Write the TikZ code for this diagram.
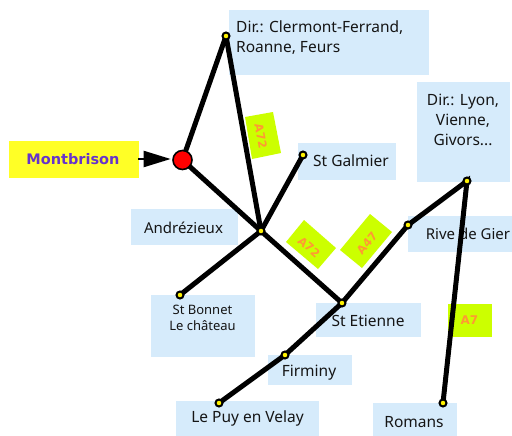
\documentclass[tikz,border=0pt]{standalone}
\usepackage{fontspec}
\usetikzlibrary{arrows.meta}
\setmainfont{Noto Sans}
\newfontfamily\boldv{DejaVu Sans}
\definecolor{boxblue}{HTML}{D6EBFB}
\definecolor{signyellow}{HTML}{FFFF26}
\definecolor{lime}{HTML}{CCFF00}
\definecolor{roadlabel}{HTML}{FF9933}
\definecolor{mbpurple}{HTML}{6633CC}
\definecolor{ink}{HTML}{151515}
\pgfdeclarelayer{front}
\pgfsetlayers{main,front}
\tikzset{
 placetext/.style={font=\fontsize{15.5}{20}\selectfont,text=ink,inner sep=0pt,align=center},
 smalltext/.style={font=\fontsize{13}{16}\selectfont,text=ink,inner sep=0pt,align=center},
 signtext/.style={font=\boldv\bfseries\fontsize{11.5}{12}\selectfont,text=roadlabel,inner sep=0pt},
 road/.style={draw=black,line width=5pt},
 stop/.style={circle,fill=yellow,draw=black,line width=2pt,minimum size=7pt,inner sep=0pt},
}
\begin{document}
\begin{tikzpicture}[x=1pt,y=-1pt]
\useasboundingbox (0,0) rectangle (512,436);
% boxes
\fill[boxblue] (229,10) rectangle (429,75);
\fill[boxblue] (298,143) rectangle (396,180);
\fill[boxblue] (417,82) rectangle (510,182);
\fill[boxblue] (408,216) rectangle (512,252);
\fill[boxblue] (131,209) rectangle (238,245);
\fill[boxblue] (151,295) rectangle (255,357);
\fill[boxblue] (316,303) rectangle (421,337);
\fill[boxblue] (268,355) rectangle (352,385);
\fill[boxblue] (176,401) rectangle (319,436);
\fill[boxblue] (373,403) rectangle (457,436);
\fill[signyellow] (9,141) rectangle (139,178);
% signs
\fill[lime] (245,117) -- (273,112) -- (281,153) -- (252,159) -- cycle;
\fill[lime] (304,220) -- (336,248) -- (318,269) -- (286,242) -- cycle;
\fill[lime] (370,214) -- (392,232) -- (362,268) -- (340,250) -- cycle;
\fill[lime] (448,304) rectangle (492,337);
\node[signtext,rotate=-79] (sa) at (261,136) {A72};
\node[signtext,rotate=-41] (sb) at (309,247) {A72};
\node[signtext,rotate=50] (sc) at (367,243) {A47};
\node[signtext,font=\boldv\bfseries\fontsize{12}{14}\selectfont] (sd) at (469.5,320) {A7};
% texts
\node[placetext,align=left,anchor=north west] (tdir) at (236,21) {Dir.: Clermont-Ferrand,\\Roanne, Feurs};
\node[placetext] (tgal) at (351,161) {St Galmier};
\node[placetext] (tlyon) at (463,119.5) {Dir.: Lyon,\\Vienne,\\Givors...};
\node[placetext,font=\fontsize{15}{20}\selectfont] (trive) at (468,234) {Rive de Gier};
\node[placetext,font=\fontsize{15}{20}\selectfont] (tand) at (183.5,228) {Andrézieux};
\node[smalltext] (tbon) at (202.5,318) {St Bonnet\\Le château};
\node[placetext] (teti) at (368,321) {St Etienne};
\node[placetext] (tfir) at (309,373) {Firminy};
\node[placetext] (tpuy) at (247.5,418) {Le Puy en Velay};
\node[placetext] (trom) at (414,422) {Romans};
\node[font=\boldv\bfseries\fontsize{14.5}{16}\selectfont,text=mbpurple,inner sep=0pt] (tmb) at (73,159.5) {Montbrison};
% stops
\begin{pgfonlayer}{front}
\node[stop] (top) at (226,36) {};
\node[stop] (junc) at (261,231) {};
\node[stop] (gal) at (303,155) {};
\node[stop] (bon) at (180,295) {};
\node[stop] (eti) at (342,303) {};
\node[stop] (fir) at (285,355) {};
\node[stop] (puy) at (219,403) {};
\node[stop] (rive) at (408,225) {};
\node[stop] (lyon) at (467,181) {};
\node[stop] (rom) at (443,403) {};
\node[circle,fill=red,draw=black,line width=1.6pt,minimum size=19pt,inner sep=0pt] (mb) at (182.5,160) {};
\end{pgfonlayer}
\coordinate (arrowstart) at (138,159);
% roads
\draw[road] (mb.center) -- (top.center);
\draw[road] (top.center) -- (junc.center);
\draw[road] (mb.center) -- (junc.center);
\draw[road] (gal.center) -- (junc.center);
\draw[road] (bon.center) -- (junc.center);
\draw[road] (junc.center) -- (eti.center);
\draw[road] (rive.center) -- (eti.center) -- (fir.center) -- (puy.center);
\draw[road] (rive.center) -- (lyon.center) -- (rom.center);
\draw[black,line width=2.2pt,-{Triangle[length=27pt,width=16pt]},shorten >=1.5pt] (arrowstart) -- (arrowstart -| mb.west);
\end{tikzpicture}
\end{document}
